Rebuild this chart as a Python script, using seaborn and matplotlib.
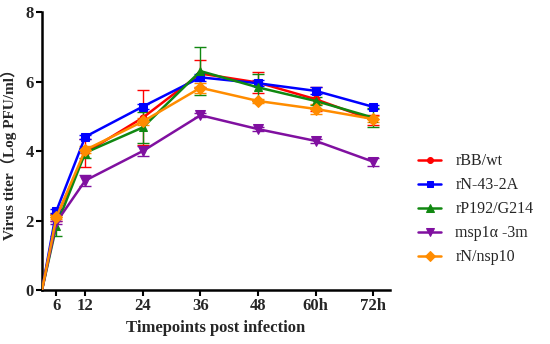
import numpy as np
import pandas as pd
import matplotlib
matplotlib.use("Agg")
import matplotlib.pyplot as plt
import seaborn as sns

hours = [3, 6, 12, 24, 36, 48, 60, 72]
tick_hours = [6, 12, 24, 36, 48, 60, 72]
tick_labels = ["6", "12", "24", "36", "48", "60h", "72h"]

series_names = ["rBB/wt", "rN-43-2A", "rP192/G214", "msp1\u03b1 -3m", "rN/nsp10"]
rbb_wt = [0, 2.10, 3.95, 4.96, 6.23, 5.97, 5.49, 4.89]
rbb_wt_err = [0, 0.10, 0.40, 0.80, 0.40, 0.30, 0.35, 0.15]
rn43 = [0, 2.28, 4.41, 5.28, 6.12, 5.95, 5.73, 5.27]
rn43_err = [0, 0.05, 0.05, 0.08, 0.10, 0.08, 0.10, 0.06]
rp192 = [0, 1.85, 3.95, 4.68, 6.30, 5.83, 5.44, 4.96]
rp192_err = [0, 0.30, 0.15, 0.45, 0.68, 0.40, 0.12, 0.28]
msp1a = [0, 1.95, 3.15, 4.00, 5.03, 4.63, 4.29, 3.69]
msp1a_err = [0, 0.05, 0.15, 0.15, 0.05, 0.05, 0.05, 0.12]
rnnsp10 = [0, 2.10, 4.03, 4.85, 5.82, 5.44, 5.21, 4.92]
rnnsp10_err = [0, 0.05, 0.10, 0.10, 0.15, 0.05, 0.15, 0.08]

values = [rbb_wt, rn43, rp192, msp1a, rnnsp10]
errors = [rbb_wt_err, rn43_err, rp192_err, msp1a_err, rnnsp10_err]
colors = ["#FF0000", "#0000FF", "#118811", "#8010A0", "#FF8C00"]
markers = ["o", "s", "^", "v", "D"]
msizes = [5, 5.5, 6, 6.5, 6]

rows = []
for name, vals in zip(series_names, values):
    for h, v in zip(hours, vals):
        rows.append({"hour": h, "titer": v, "strain": name})
df = pd.DataFrame(rows)

sns.set_style("ticks")
plt.rcParams['font.family'] = ['Liberation Serif', 'Noto Sans CJK SC']

fig = plt.figure(figsize=(5.5, 3.44), dpi=100)
ax = fig.add_axes([0.0764, 0.157, 0.633, 0.808])

for name, vals, errs, c, m, ms in zip(series_names, values, errors, colors, markers, msizes):
    sub = df[df["strain"] == name]
    ax.errorbar(hours[1:], vals[1:], yerr=errs[1:], fmt="none", ecolor=c,
                elinewidth=1.0, capsize=4, capthick=1.0, zorder=2)
    sns.lineplot(data=sub, x="hour", y="titer", color=c, marker=m,
                 markersize=ms, markeredgecolor=c, linewidth=1.8,
                 markevery=list(range(1, len(hours))),
                 label=name, ax=ax, zorder=3)

ax.set_xlim(3, 75.5)
ax.set_ylim(0, 8)
ax.set_xticks(tick_hours)
ax.set_xticklabels(tick_labels)
ax.set_yticks([0, 2, 4, 6, 8])
for lab in ax.get_xticklabels() + ax.get_yticklabels():
    lab.set_fontweight("bold")
    lab.set_fontsize(12)
ax.tick_params(axis="both", length=4, width=1.5, color="black", pad=2)
for s in ["left", "bottom"]:
    ax.spines[s].set_linewidth(1.8)
    ax.spines[s].set_color("black")
sns.despine(ax=ax)

ax.set_xlabel("Timepoints post infection", fontsize=12, fontweight="bold", labelpad=4)
ax.set_ylabel("Virus titer\uff08Log PFU/ml\uff09", fontsize=11, fontweight="bold", labelpad=6)

leg = ax.legend(loc="center left", bbox_to_anchor=(1.04, 0.29), frameon=False,
                fontsize=11.5, handlelength=1.4, handletextpad=0.9, labelspacing=0.5,
                markerscale=0.85)
for line in leg.get_lines():
    line.set_markevery([1])

fig.savefig("out.png", dpi=100)
